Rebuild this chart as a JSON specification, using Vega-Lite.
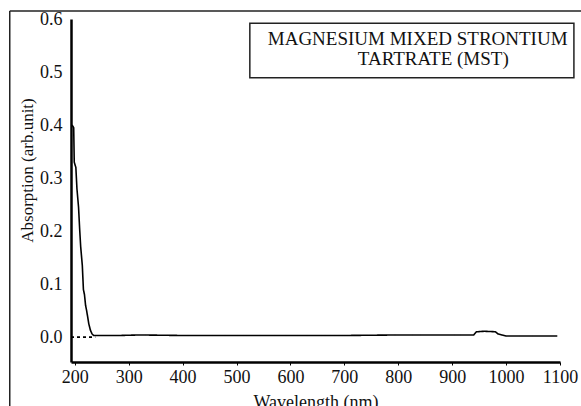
{
  "$schema": "https://vega.github.io/schema/vega-lite/v6.json",
  "width": 489,
  "height": 343,
  "autosize": "none",
  "padding": {"left": 71, "top": 19, "right": 21, "bottom": 44},
  "background": "white",
  "config": {
    "view": {"stroke": null},
    "font": "Liberation Serif",
    "axis": {"labelFont": "Liberation Serif", "titleFont": "Liberation Serif", "labelColor": "#111", "titleColor": "#111", "grid": false, "domainColor": "#000", "domainWidth": 2.5, "tickColor": "#000", "titleFontWeight": "normal"}
  },
  "datasets": {
    "spectrum": [
      {"wavelength": 195, "absorption": 0.40, "s": "curve"},
      {"wavelength": 198, "absorption": 0.395, "s": "curve"},
      {"wavelength": 199, "absorption": 0.33, "s": "curve"},
      {"wavelength": 202, "absorption": 0.32, "s": "curve"},
      {"wavelength": 204, "absorption": 0.28, "s": "curve"},
      {"wavelength": 207, "absorption": 0.245, "s": "curve"},
      {"wavelength": 209, "absorption": 0.205, "s": "curve"},
      {"wavelength": 211, "absorption": 0.17, "s": "curve"},
      {"wavelength": 214, "absorption": 0.135, "s": "curve"},
      {"wavelength": 216, "absorption": 0.09, "s": "curve"},
      {"wavelength": 218, "absorption": 0.08, "s": "curve"},
      {"wavelength": 220, "absorption": 0.06, "s": "curve"},
      {"wavelength": 222, "absorption": 0.05, "s": "curve"},
      {"wavelength": 226, "absorption": 0.025, "s": "curve"},
      {"wavelength": 229, "absorption": 0.013, "s": "curve"},
      {"wavelength": 232, "absorption": 0.006, "s": "curve"},
      {"wavelength": 235, "absorption": 0.003, "s": "curve"},
      {"wavelength": 280, "absorption": 0.003, "s": "curve"},
      {"wavelength": 320, "absorption": 0.004, "s": "curve"},
      {"wavelength": 400, "absorption": 0.003, "s": "curve"},
      {"wavelength": 500, "absorption": 0.003, "s": "curve"},
      {"wavelength": 600, "absorption": 0.003, "s": "curve"},
      {"wavelength": 700, "absorption": 0.003, "s": "curve"},
      {"wavelength": 800, "absorption": 0.004, "s": "curve"},
      {"wavelength": 940, "absorption": 0.004, "s": "curve"},
      {"wavelength": 945, "absorption": 0.01, "s": "curve"},
      {"wavelength": 960, "absorption": 0.011, "s": "curve"},
      {"wavelength": 980, "absorption": 0.01, "s": "curve"},
      {"wavelength": 985, "absorption": 0.006, "s": "curve"},
      {"wavelength": 992, "absorption": 0.004, "s": "curve"},
      {"wavelength": 1000, "absorption": 0.002, "s": "curve"},
      {"wavelength": 1095, "absorption": 0.002, "s": "curve"},
      {"wavelength": 193, "absorption": 0.0, "s": "base"},
      {"wavelength": 238, "absorption": 0.0, "s": "base"}
    ]
  },
  "layer": [
    {
      "data": {"name": "spectrum"},
      "mark": {"type": "line", "color": "#000", "strokeWidth": 1.6},
      "encoding": {
        "x": {"field": "wavelength", "type": "quantitative", "scale": {"domain": [193, 1100], "nice": false, "zero": false},
              "axis": {"title": "Wavelength (nm)", "values": [200, 300, 400, 500, 600, 700, 800, 900, 1000, 1100], "format": "d", "labelFontSize": 18, "titleFontSize": 18, "tickSize": 3, "labelPadding": 3, "titlePadding": 7, "labelFlush": false}},
        "y": {"field": "absorption", "type": "quantitative", "scale": {"domain": [-0.047, 0.6], "nice": false, "zero": false},
              "axis": {"title": "Absorption (arb.unit)", "values": [0, 0.1, 0.2, 0.3, 0.4, 0.5, 0.6], "format": ".1f", "labelFontSize": 18, "titleFontSize": 17, "tickSize": 0, "labelPadding": 9, "titleX": -44, "titleY": 151, "titleAlign": "center", "titleBaseline": "middle", "titleAngle": -90}},
        "strokeDash": {"field": "s", "type": "nominal", "scale": {"domain": ["curve", "base"], "range": [[1, 0], [3, 3]]}, "legend": null},
        "detail": {"field": "s"}
      }
    },
    {
      "data": {"values": [{}]},
      "mark": {"type": "rect", "fill": "white", "stroke": "#222", "strokeWidth": 1.5},
      "encoding": {"x": {"datum": 524.7}, "x2": {"datum": 1125.8}, "y": {"datum": 0.592}, "y2": {"datum": 0.489}}
    },
    {
      "data": {"values": [{"label": "MAGNESIUM MIXED STRONTIUM"}]},
      "mark": {"type": "text", "align": "left", "baseline": "alphabetic", "fontSize": 19, "color": "#111", "font": "Liberation Serif"},
      "encoding": {"x": {"datum": 558}, "y": {"datum": 0.551}, "text": {"field": "label"}}
    },
    {
      "data": {"values": [{"label": "TARTRATE (MST)"}]},
      "mark": {"type": "text", "align": "left", "baseline": "alphabetic", "fontSize": 19, "color": "#111", "font": "Liberation Serif"},
      "encoding": {"x": {"datum": 725}, "y": {"datum": 0.513}, "text": {"field": "label"}}
    },
    {
      "data": {"values": [{}]},
      "mark": {"type": "rule", "color": "#222", "strokeWidth": 1.5},
      "encoding": {"x": {"datum": 79.4}, "x2": {"datum": 1145}, "y": {"datum": 0.615}}
    },
    {
      "data": {"values": [{}]},
      "mark": {"type": "rule", "color": "#222", "strokeWidth": 1.5},
      "encoding": {"x": {"datum": 79.4}, "y": {"datum": 0.615}, "y2": {"datum": -0.14}}
    }
  ]
}
